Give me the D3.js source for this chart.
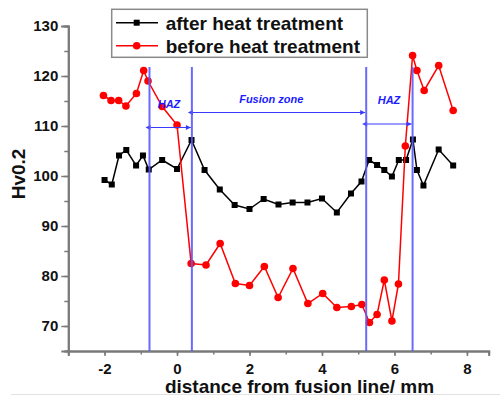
<!DOCTYPE html>
<html><head><meta charset="utf-8">
<script src="https://cdn.jsdelivr.net/npm/d3@7"></script>
<style>
html,body{margin:0;padding:0;background:#fff;}
svg{display:block;font-family:"Liberation Sans",Arial,sans-serif;}
</style></head>
<body>
<svg id="chart" width="500" height="400"></svg>
<script>
// ---- data ----
const afterX = [-2.0,-1.8,-1.6,-1.4,-1.13,-0.94,-0.78,-0.41,0.0,0.4,0.76,1.18,1.59,2.0,2.39,2.8,3.19,3.6,4.0,4.41,4.8,5.09,5.3,5.52,5.72,5.93,6.12,6.32,6.51,6.62,6.8,7.22,7.62];
const afterY = [99.2,98.3,104.1,105.2,102.1,104.1,101.3,103.2,101.4,107.2,101.2,97.3,94.2,93.4,95.4,94.3,94.7,94.7,95.5,92.7,96.5,98.9,103.2,102.2,101.2,99.9,103.2,103.2,107.3,101.2,98.1,105.3,102.1];
const beforeX = [-2.03,-1.82,-1.61,-1.41,-1.12,-0.92,-0.8,-0.41,0.0,0.39,0.8,1.19,1.61,2.0,2.41,2.79,3.2,3.61,4.02,4.41,4.81,5.1,5.31,5.52,5.72,5.93,6.11,6.3,6.5,6.62,6.82,7.22,7.62];
const beforeY = [116.1,115.1,115.1,114.0,116.5,121.1,119.0,113.9,110.2,82.5,82.2,86.5,78.5,78.1,81.9,75.7,81.5,74.5,76.5,73.7,73.9,74.3,70.7,72.3,79.2,71.0,78.4,106.0,124.1,121.1,117.1,122.1,113.1];
const seriesNames = ["after heat treatment","before heat treatment"];
const xTicks = [-2,0,2,4,6,8];
const yTicks = [70,80,90,100,110,120,130];
const zoneLines = [-0.76,0.41,5.22,6.5];
const zoneArrows = [[-0.76,0.41,109.7],[0.41,5.22,112.7],[5.22,6.5,110.4]];
const zoneLabels = ["HAZ","Fusion zone","HAZ"];
const zoneLabelPos = [[-0.22,114.5],[2.6,115.5],[5.85,115.2]];
const xTitle = "distance from fusion line/ mm";
const yTitle = "Hv0.2";

// ---- scales ----
const svg = d3.select("#chart");
const x = d3.scaleLinear().domain([-3, 8.6]).range([68.3, 68.3 + 11.6*36.24]);
const y = d3.scaleLinear().domain([65, 130]).range([351, 26]);
const axisCol = "#7a7a7a";

// faint frame line at bottom
svg.append("line").attr("x1",11).attr("x2",500).attr("y1",394.5).attr("y2",394.5)
  .attr("stroke","#e2e2e2").attr("stroke-width",1);

// ---- axes ----
const xMinor = svg.append("g").attr("transform","translate(0,351)")
  .call(d3.axisBottom(x).tickValues(d3.range(-3,9,1)).tickSize(3.5).tickFormat(""));
const xMajor = svg.append("g").attr("transform","translate(0,351)")
  .call(d3.axisBottom(x).tickValues(xTicks).tickSize(5).tickPadding(7).tickFormat(d=>String(d)));
const yMinor = svg.append("g").attr("transform","translate(68.3,0)")
  .call(d3.axisLeft(y).tickValues(d3.range(65,131,5)).tickSize(4).tickFormat(""));
const yMajor = svg.append("g").attr("transform","translate(68.3,0)")
  .call(d3.axisLeft(y).tickValues(yTicks).tickSize(7).tickPadding(3).tickFormat(d=>String(d)));
[xMinor,xMajor,yMinor,yMajor].forEach(g=>{
  g.selectAll("path.domain").attr("stroke",axisCol).attr("stroke-width",2);
  g.selectAll(".tick line").attr("stroke",axisCol).attr("stroke-width",1.5);
  g.selectAll("text").attr("fill","#111").attr("font-size",15).attr("font-weight","bold")
    .attr("font-family","'Liberation Sans',Arial,sans-serif");
});

// axis titles
svg.append("text").attr("x",299.5).attr("y",393).attr("text-anchor","middle")
  .attr("font-size",19).attr("font-weight","bold").attr("fill","#111").text(xTitle);
svg.append("text").attr("transform","translate(25,174) rotate(-90)").attr("text-anchor","middle")
  .attr("font-size",19).attr("font-weight","bold").attr("fill","#111").text(yTitle);

// ---- data series ----
const afterData = afterX.map((v,i)=>[v,afterY[i]]);
const beforeData = beforeX.map((v,i)=>[v,beforeY[i]]);
const line = d3.line().x(d=>x(d[0])).y(d=>y(d[1]));

svg.append("path").datum(afterData).attr("d",line).attr("fill","none")
  .attr("stroke","#000").attr("stroke-width",1.5);
svg.append("g").selectAll("rect").data(afterData).join("rect")
  .attr("x",d=>x(d[0])-3).attr("y",d=>y(d[1])-3).attr("width",6).attr("height",6).attr("fill","#000");

svg.append("path").datum(beforeData).attr("d",line).attr("fill","none")
  .attr("stroke","#ff0000").attr("stroke-width",1.5);
svg.append("g").selectAll("circle").data(beforeData).join("circle")
  .attr("cx",d=>x(d[0])).attr("cy",d=>y(d[1])).attr("r",3.8).attr("fill","#ff0000");

// ---- zone annotations ----
const defs = svg.append("defs");
["s","e"].forEach(k=>{
  defs.append("marker").attr("id","ar"+k).attr("viewBox","0 0 10 10").attr("refX",k==="e"?10:0).attr("refY",5)
    .attr("markerWidth",7).attr("markerHeight",5).attr("markerUnits","userSpaceOnUse").attr("orient","auto-start-reverse")
    .append("path").attr("d","M0,0 L10,5 L0,10 Z").attr("fill","#3a3aff");
});
svg.append("g").selectAll("line").data(zoneArrows).join("line")
  .attr("x1",d=>x(d[0])+1).attr("x2",d=>x(d[1])-1).attr("y1",d=>y(d[2])).attr("y2",d=>y(d[2]))
  .attr("stroke","#3a3aff").attr("stroke-width",1.2)
  .attr("marker-start","url(#ars)").attr("marker-end","url(#are)");
svg.append("g").selectAll("line").data(zoneLines).join("line")
  .attr("x1",d=>x(d)).attr("x2",d=>x(d)).attr("y1",y(65)).attr("y2",y(121.8))
  .attr("stroke","#5a5aff").attr("stroke-opacity",0.9).attr("stroke-width",2);
svg.append("g").selectAll("text").data(zoneLabels).join("text")
  .attr("x",(d,i)=>x(zoneLabelPos[i][0])).attr("y",(d,i)=>y(zoneLabelPos[i][1]))
  .attr("text-anchor","middle").attr("dominant-baseline","central")
  .attr("font-size",11).attr("font-weight","bold").attr("font-style","italic").attr("fill","#1c1cff")
  .text(d=>d);

// ---- legend ----
const lg = svg.append("g");
lg.append("rect").attr("x",111.7).attr("y",9.3).attr("width",255.6).attr("height",48)
  .attr("fill","#fff").attr("stroke","#8a8a8a").attr("stroke-width",1.5);
const legY = [22.7,45.7];
const legCol = ["#000","#ff0000"];
seriesNames.forEach((name,i)=>{
  lg.append("line").attr("x1",116).attr("x2",158).attr("y1",legY[i]).attr("y2",legY[i])
    .attr("stroke",legCol[i]).attr("stroke-width",1.5);
  if(i===0) lg.append("rect").attr("x",133.7).attr("y",legY[i]-3).attr("width",6).attr("height",6).attr("fill","#000");
  else lg.append("circle").attr("cx",136.7).attr("cy",legY[i]).attr("r",3.8).attr("fill","#ff0000");
  lg.append("text").attr("x",165.7).attr("y",legY[i]+7).attr("font-size",19).attr("font-weight","bold")
    .attr("fill","#111").text(name);
});
</script>
</body></html>
